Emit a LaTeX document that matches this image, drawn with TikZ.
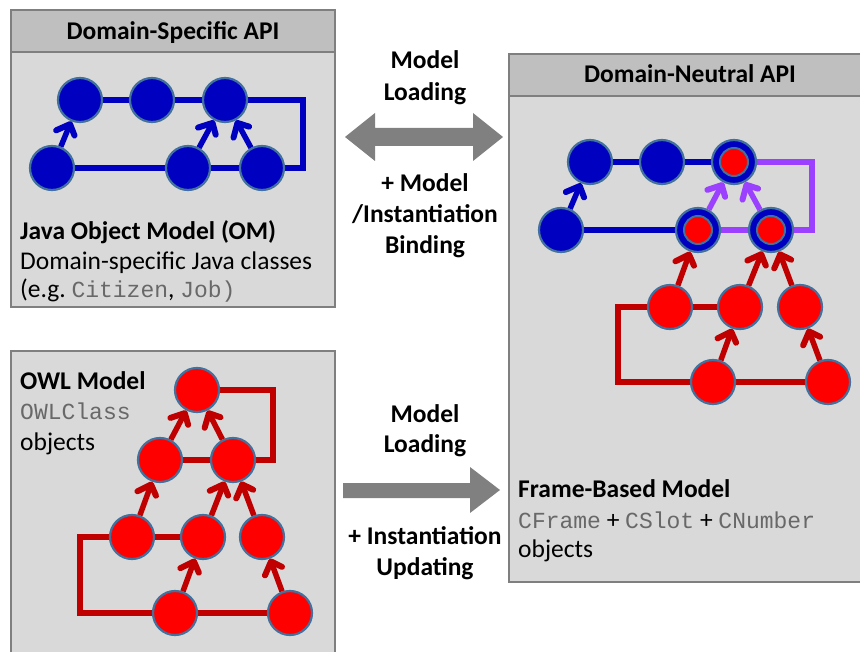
\documentclass[tikz,border=0pt]{standalone}
\usepackage{fontspec}
\setmainfont{Carlito}
\setmonofont{Liberation Mono}
\usetikzlibrary{arrows.meta,calc,decorations.markings}
\definecolor{boxfill}{HTML}{D9D9D9}
\definecolor{headfill}{HTML}{BFBFBF}
\definecolor{boxline}{HTML}{7F7F7F}
\definecolor{nodeblue}{HTML}{0000C0}
\definecolor{nodered}{HTML}{FF0000}
\definecolor{linered}{HTML}{C00000}
\definecolor{linepurple}{HTML}{9B40FF}
\definecolor{ringline}{HTML}{41719C}
\definecolor{bigarrow}{HTML}{808080}
\definecolor{codegray}{HTML}{686868}
\pgfdeclarelayer{boxes}
\pgfdeclarelayer{edges}
\pgfsetlayers{boxes,edges,main}
\newcommand{\code}[1]{{\fontsize{23}{27}\ttfamily\color{codegray}#1}}
\begin{document}
\begin{tikzpicture}[x=1pt,y=-1pt,
  every node/.style={font=\fontsize{25.5}{30}\selectfont, inner sep=0pt},
  bluenode/.style={circle, fill=nodeblue, draw=ringline, line width=2.2pt, minimum size=44pt},
  rednode/.style={circle, fill=nodered, draw=ringline, line width=2.2pt, minimum size=44pt},
  innerdot/.style={circle, fill=nodered, draw=ringline, line width=2pt, minimum size=28pt},
  bl/.style={draw=nodeblue, line width=5.5pt},
  rl/.style={draw=linered, line width=5.5pt},
  pl/.style={draw=linepurple, line width=5.5pt},
  arr/.style={shorten >=3pt, postaction={decorate, decoration={markings,
     mark=at position 1 with {\draw[#1, line width=6pt, line cap=round, line join=round]
       (-14pt,10.5pt) -- (-3pt,0pt) -- (-14pt,-10.5pt);}}}},
  boxstyle/.style={fill=boxfill, draw=boxline, line width=2pt},
  headstyle/.style={fill=headfill, draw=boxline, line width=2pt},
  headtext/.style={anchor=base, font=\fontsize{25.5}{30}\selectfont\bfseries},
  midtext/.style={anchor=base, font=\fontsize{25.5}{30}\selectfont\bfseries},
  lefttext/.style={anchor=base west},
  bigarr/.style={fill=bigarrow}
]
\useasboundingbox (0,0) rectangle (860,652);
\begin{pgfonlayer}{boxes}
  % Domain-Specific API box
  \draw[boxstyle] (11,10) rectangle (335,307);
  \draw[headstyle] (11,10) rectangle (335,52);
  % Domain-Neutral API box
  \draw[boxstyle] (509,54) rectangle (872,582);
  \draw[headstyle] (509,54) rectangle (872,96);
  % OWL box
  \draw[boxstyle] (11,351) rectangle (335,670);
  % big arrows
  \fill[bigarr] (345,137) -- (375,113) -- (375,128) -- (473,128) -- (473,113)
     -- (503,137) -- (473,161) -- (473,146) -- (375,146) -- (375,161) -- cycle;
  \fill[bigarr] (343,483) -- (470,483) -- (470,467) -- (500,490) -- (470,513)
     -- (470,498) -- (343,498) -- cycle;
\end{pgfonlayer}

% ---- texts
\node[headtext] (h1) at (173,40) {Domain-Specific API};
\node[headtext] (h2) at (690,83) {Domain-Neutral API};
\node[lefttext, font=\fontsize{25.5}{30}\selectfont\bfseries] (j1) at (20,240) {Java Object Model (OM)};
\node[lefttext] (j2) at (20,270) {Domain-specific Java classes};
\node[lefttext] (j3) at (20,298) {(e.g.\ \code{Citizen}, \code{Job)}};
\node[lefttext, font=\fontsize{25.5}{30}\selectfont\bfseries] (o1) at (20,390) {OWL Model};
\node[lefttext] (o2) at (20,420) {\code{OWLClass}};
\node[lefttext] (o3) at (20,450) {objects};
\node[lefttext, font=\fontsize{25.5}{30}\selectfont\bfseries] (f1) at (518,497) {Frame-Based Model};
\node[lefttext] (f2) at (518,528) {\code{CFrame} + \code{CSlot} + \code{CNumber}};
\node[lefttext] (f3) at (518,557) {objects};
\node[midtext] (t1) at (425,69) {Model};
\node[midtext] (t2) at (425,101) {Loading};
\node[midtext] (t3) at (425,192) {+ Model};
\node[midtext] (t4) at (425,223) {/Instantiation};
\node[midtext] (t5) at (425,254) {Binding};
\node[midtext] (t6) at (425,422) {Model};
\node[midtext] (t7) at (425,453) {Loading};
\node[midtext] (t8) at (425,544) {+ Instantiation};
\node[midtext] (t9) at (425,575) {Updating};

% ---- Domain-specific graph
\node[bluenode] (a1) at (80,100) {};
\node[bluenode] (a2) at (152,100) {};
\node[bluenode] (a3) at (225,100) {};
\node[bluenode] (a4) at (52,168) {};
\node[bluenode] (a5) at (188,168) {};
\node[bluenode] (a6) at (262,168) {};
\begin{pgfonlayer}{edges}
  \draw[bl] (a1.center) -- (a3.center) -- ([xshift=78pt]a3.center) |- (a6.center);
  \draw[bl] (a4.center) -- (a6.center);
\end{pgfonlayer}
\draw[bl,arr=nodeblue] (a4) -- (a1);
\draw[bl,arr=nodeblue] (a5) -- (a3);
\draw[bl,arr=nodeblue] (a6) -- (a3);

% ---- Domain-neutral graph
\node[bluenode] (b1) at (590,162) {};
\node[bluenode] (b2) at (662,162) {};
\node[bluenode] (b3) at (734,162) {};
\node[innerdot] (b3i) at (b3.center) {};
\node[bluenode] (b4) at (561,230) {};
\node[bluenode] (b5) at (698,230) {};
\node[innerdot] (b5i) at (b5.center) {};
\node[bluenode] (b6) at (771,230) {};
\node[innerdot] (b6i) at (b6.center) {};
\node[rednode] (c1) at (670,307) {};
\node[rednode] (c2) at (740,307) {};
\node[rednode] (c3) at (800,307) {};
\node[rednode] (c4) at (713,382) {};
\node[rednode] (c5) at (828,382) {};
\begin{pgfonlayer}{edges}
  \draw[bl] (b1.center) -- (b3.center);
  \draw[bl] (b4.center) -- (b5.center);
  \draw[pl] (b5.center) -- (b6.center);
  \draw[pl] (b3.center) -- ([xshift=78pt]b3.center) |- (b6.center);
  \draw[rl] (c1.center) -- (c2.center);
  \draw[rl] (c1.center) -- ([xshift=-52pt]c1.center) |- (c4.center);
  \draw[rl] (c4.center) -- (c5.center);
\end{pgfonlayer}
\draw[bl,arr=nodeblue] (b4) -- (b1);
\draw[pl,arr=linepurple] (b5) -- (b3);
\draw[pl,arr=linepurple] (b6) -- (b3);
\draw[rl,arr=linered] (c1) -- (b5);
\draw[rl,arr=linered] (c2) -- (b6);
\draw[rl,arr=linered] (c3) -- (b6);
\draw[rl,arr=linered] (c4) -- (c2);
\draw[rl,arr=linered] (c5) -- (c3);

% ---- OWL graph
\node[rednode] (d1) at (197,390) {};
\node[rednode] (d2) at (160,460) {};
\node[rednode] (d3) at (233,460) {};
\node[rednode] (d4) at (132,537) {};
\node[rednode] (d5) at (203,537) {};
\node[rednode] (d6) at (262,537) {};
\node[rednode] (d7) at (175,613) {};
\node[rednode] (d8) at (290,613) {};
\begin{pgfonlayer}{edges}
  \draw[rl] (d1.center) -- ([xshift=76pt]d1.center) |- (d3.center);
  \draw[rl] (d2.center) -- (d3.center);
  \draw[rl] (d4.center) -- (d5.center);
  \draw[rl] (d4.center) -- ([xshift=-52pt]d4.center) |- (d7.center);
  \draw[rl] (d7.center) -- (d8.center);
\end{pgfonlayer}
\draw[rl,arr=linered] (d2) -- (d1);
\draw[rl,arr=linered] (d3) -- (d1);
\draw[rl,arr=linered] (d4) -- (d2);
\draw[rl,arr=linered] (d5) -- (d3);
\draw[rl,arr=linered] (d6) -- (d3);
\draw[rl,arr=linered] (d7) -- (d5);
\draw[rl,arr=linered] (d8) -- (d6);
\end{tikzpicture}
\end{document}
